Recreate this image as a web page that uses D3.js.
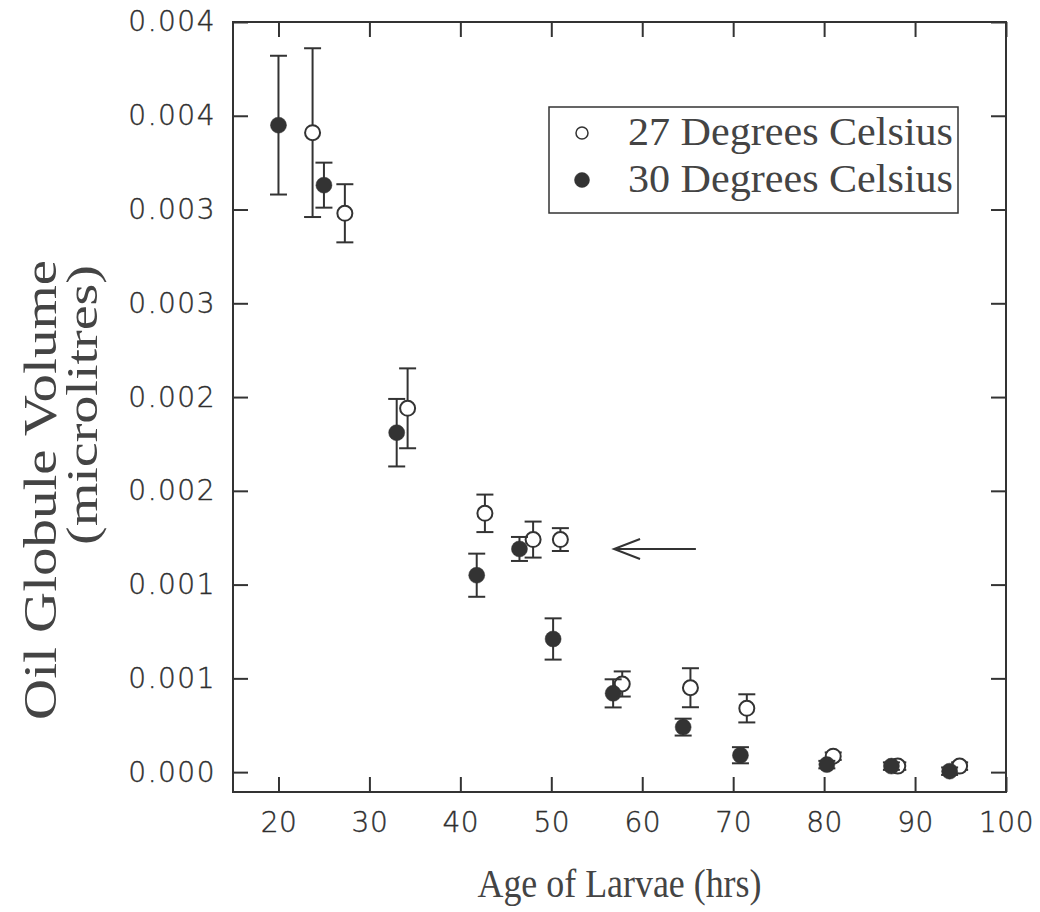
<!DOCTYPE html>
<html>
<head>
<meta charset="utf-8">
<script src="https://cdn.jsdelivr.net/npm/d3@7"></script>
<style>
	body { margin: 0; background: #fff; }
	svg { display: block; }
</style>
</head>
<body>
<svg id="chart" width="1040" height="912"></svg>
<script>
/* 27 degrees (open circles) */
var age27 = [23.75, 27.3, 34.2, 42.7, 48.0, 51.0, 57.8, 65.3, 71.5, 81.0, 88.1, 94.9];
var vol27 = [0.00341, 0.00298, 0.00194, 0.00138, 0.00124, 0.00124, 0.00047, 0.00045, 0.00034, 0.000085, 0.000032, 0.000032];
var err27 = [0.00045, 0.000155, 0.000213, 0.0001, 0.000096, 0.000061, 0.000067, 0.000104, 0.000075, 0.00002, 0.00002, 0.00002];

/* 30 degrees (filled circles) */
var age30 = [20.0, 25.0, 33.0, 41.8, 46.5, 50.2, 56.8, 64.5, 70.8, 80.3, 87.4, 93.8];
var vol30 = [0.00345, 0.00313, 0.00181, 0.00105, 0.00119, 0.00071, 0.00042, 0.00024, 0.00009, 0.00004, 0.000032, 0.000005];
var err30 = [0.00037, 0.00012, 0.00018, 0.000115, 0.000064, 0.00011, 0.000075, 0.000045, 0.000043, 0.00002, 0.00002, 0.00002];

var xTicks = [20, 30, 40, 50, 60, 70, 80, 90, 100];
var yTicks = [0, 0.0005, 0.001, 0.0015, 0.002, 0.0025, 0.003, 0.0035, 0.004];
var yTickLabels = ["0.000", "0.001", "0.001", "0.002", "0.002", "0.003", "0.003", "0.004", "0.004"];

var seriesNames = ["27 Degrees Celsius", "30 Degrees Celsius"];

/* arrow annotation, in data units */
var arrowFrom = [65.9, 0.00119];
var arrowTo = [56.9, 0.00119];

var ink = "#333";
var textInk = "#444";
var serif = "'Liberation Serif', 'Times New Roman', serif";

var svg = d3.select("#chart");
var plotLeft = 233, plotRight = 1006, plotTop = 22, plotBottom = 792;

var x = d3.scaleLinear().domain([15, 100]).range([plotLeft, plotRight]);
var y = d3.scaleLinear().domain([-0.000106, 0.004]).range([plotBottom, plotTop]);

/* frame */
svg.append("rect")
	.attr("x", plotLeft).attr("y", plotTop)
	.attr("width", plotRight - plotLeft).attr("height", plotBottom - plotTop)
	.attr("fill", "none").attr("stroke", ink).attr("stroke-width", 2);

function styleAxis(g)
{
	g.select(".domain").remove();
	g.selectAll(".tick line").attr("stroke", ink).attr("stroke-width", 2);
	g.selectAll(".tick text")
		.attr("fill", "#2e2e2e")
		.attr("stroke", "#2e2e2e").attr("stroke-width", 0.4)
		.style("font-family", "'DejaVu Sans', sans-serif")
		.style("font-weight", 200)
		.style("font-size", "28px");
}

svg.append("g")
	.attr("transform", "translate(0," + plotBottom + ")")
	.call(d3.axisBottom(x).tickValues(xTicks).tickSize(-15).tickPadding(20))
	.call(styleAxis)
	.selectAll(".tick text").style("letter-spacing", "0.5px");

svg.append("g")
	.attr("transform", "translate(0," + plotTop + ")")
	.call(d3.axisTop(x).tickValues(xTicks).tickSize(-15).tickFormat(""))
	.call(styleAxis);

svg.append("g")
	.attr("transform", "translate(" + plotLeft + ",0)")
	.call(d3.axisLeft(y).tickValues(yTicks).tickSize(-15).tickPadding(17)
		.tickFormat(function(d, i) { return yTickLabels[i]; }))
	.call(styleAxis)
	.selectAll(".tick text").style("letter-spacing", "1.5px");

svg.append("g")
	.attr("transform", "translate(" + plotRight + ",0)")
	.call(d3.axisRight(y).tickValues(yTicks).tickSize(-15).tickFormat(""))
	.call(styleAxis);

/* error bars + points */
function drawSeries(ages, vols, errs, filled)
{
	var data = ages.map(function(a, i) { return {x: a, y: vols[i], e: errs[i]}; });
	var g = svg.append("g");
	var bars = g.selectAll(".bar").data(data).enter().append("g")
		.attr("stroke", ink).attr("stroke-width", 2);
	bars.append("line")
		.attr("x1", function(d) { return x(d.x); })
		.attr("x2", function(d) { return x(d.x); })
		.attr("y1", function(d) { return y(d.y - d.e); })
		.attr("y2", function(d) { return y(d.y + d.e); });
	[-1, 1].forEach(function(s) {
		bars.append("line")
			.attr("x1", function(d) { return x(d.x) - 8.5; })
			.attr("x2", function(d) { return x(d.x) + 8.5; })
			.attr("y1", function(d) { return y(d.y + s * d.e); })
			.attr("y2", function(d) { return y(d.y + s * d.e); });
	});
	g.selectAll(".pt").data(data).enter().append("circle")
		.attr("cx", function(d) { return x(d.x); })
		.attr("cy", function(d) { return y(d.y); })
		.attr("r", filled ? 8 : 7.5)
		.attr("fill", filled ? ink : "#fff")
		.attr("stroke", ink)
		.attr("stroke-width", filled ? 0.5 : 2);
}

drawSeries(age27, vol27, err27, false);
drawSeries(age30, vol30, err30, true);

/* arrow */
var ax = x(arrowTo[0]), ay = y(arrowTo[1]);
svg.append("line")
	.attr("x1", x(arrowFrom[0])).attr("y1", y(arrowFrom[1]))
	.attr("x2", ax).attr("y2", ay)
	.attr("stroke", ink).attr("stroke-width", 2);
svg.append("path")
	.attr("d", "M" + (ax + 26) + "," + (ay - 10) + "L" + ax + "," + ay + "L" + (ax + 26) + "," + (ay + 10))
	.attr("fill", "none").attr("stroke", ink).attr("stroke-width", 2);

/* legend */
var legend = svg.append("g");
legend.append("rect")
	.attr("x", 549).attr("y", 107).attr("width", 409).attr("height", 106)
	.attr("fill", "#fff").attr("stroke", ink).attr("stroke-width", 1.5);
seriesNames.forEach(function(name, i) {
	var cy = 133 + i * 47;
	legend.append("circle")
		.attr("cx", 582).attr("cy", cy)
		.attr("r", i == 0 ? 6 : 7.5)
		.attr("fill", i == 0 ? "#fff" : ink)
		.attr("stroke", ink).attr("stroke-width", i == 0 ? 1.5 : 0.5);
	legend.append("text")
		.attr("x", 628).attr("y", cy + 12)
		.attr("textLength", 325).attr("lengthAdjust", "spacingAndGlyphs")
		.attr("fill", textInk)
		.style("font-family", serif)
		.style("font-size", "40px")
		.text(name);
});

/* axis titles */
svg.append("text")
	.attr("x", (plotLeft + plotRight) / 2).attr("y", 897)
	.attr("text-anchor", "middle")
	.attr("textLength", 284).attr("lengthAdjust", "spacingAndGlyphs")
	.attr("fill", textInk)
	.style("font-family", serif)
	.style("font-size", "40px")
	.text("Age of Larvae (hrs)");

var yTitle = svg.append("g")
	.attr("transform", "rotate(-90)")
	.attr("fill", textInk)
	.style("font-family", serif);
yTitle.append("text")
	.attr("x", -490).attr("y", 56)
	.attr("text-anchor", "middle")
	.attr("textLength", 460).attr("lengthAdjust", "spacingAndGlyphs")
	.style("font-size", "47px")
	.text("Oil Globule Volume");
yTitle.append("text")
	.attr("x", -405).attr("y", 97)
	.attr("text-anchor", "middle")
	.attr("textLength", 280).attr("lengthAdjust", "spacingAndGlyphs")
	.style("font-size", "44px")
	.text("(microlitres)");
</script>
</body>
</html>
